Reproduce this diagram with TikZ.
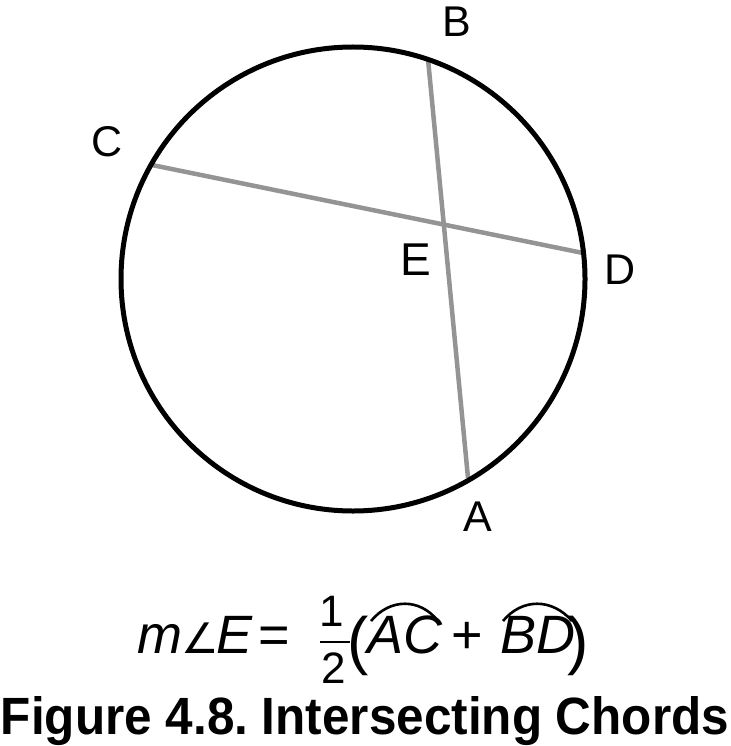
\documentclass[tikz,border=0pt]{standalone}
\usepackage{fontspec}
\setmainfont{Liberation Sans}
\newfontfamily\djv{DejaVu Sans}
\usepackage{graphicx}
\frenchspacing
\begin{document}
\begin{tikzpicture}[x=1pt,y=-1pt,
  lbl/.style={font=\fontsize{43}{43}\selectfont, inner sep=0pt},
  chord/.style={draw=black!42, line width=4.5pt},
  rim/.style={draw=black, line width=5pt},
  fml/.style={font=\fontsize{54}{54}\selectfont, inner sep=0pt, anchor=base west},
  frac/.style={font=\fontsize{44}{44}\selectfont, inner sep=0pt, anchor=base},
  arcover/.style={draw=black, line width=2.6pt}]
\useasboundingbox (0,0) rectangle (730,746);
\coordinate (O) at (353,279);
\coordinate (B) at (428,59);
\coordinate (A) at (468,478);
\coordinate (C) at (152,165);
\coordinate (D) at (583,253);
\draw[chord] (B) -- (A);
\draw[chord] (C) -- (D);
\draw[rim] (O) circle[radius=232];
\node[lbl] (lB) at (457,22) {B};
\node[lbl] (lC) at (107,142) {C};
\node[lbl] (lD) at (620,270) {D};
\node[lbl] (lA) at (478,517) {A};
\node[lbl, font=\fontsize{46}{46}\selectfont] (lE) at (416,260) {E};
% formula
\node[fml] (fm) at (137,653) {\textit{m}};
\node[fml, font=\fontsize{42}{42}\selectfont] (fang) at (181,653) {\djv\itshape ∠};
\node[fml] (fe) at (216,653) {\textit{E}};
\node[fml, anchor=base] (feq) at (274,653) {=};
\node[frac] (one) at (332,626) {1};
\node[frac] (two) at (334,683) {2};
\draw[line width=2.6pt] (320,642) coordinate (fb1) -- (350,642) coordinate (fb2);
\node[fml, font=\fontsize{64}{64}\selectfont] (lp) at (347,662) {(};
\node[fml] (ac) at (367,653) {\textit{AC}};
\node[fml, anchor=base] (plus) at (467,653) {+};
\node[fml] (bd) at (500,653) {\textit{BD}};
\node[fml, font=\fontsize{64}{64}\selectfont] (rp) at (567,662) {)};
\draw[arcover] (371,621) .. controls (390,598) and (420,598) .. (438,621);
\draw[arcover] (503,621) .. controls (522,598) and (552,598) .. (572,621);
% caption
\node[inner sep=0pt, anchor=base] (cap) at (365,734) {\resizebox{728pt}{38pt}{\bfseries Figure 4.8. Intersecting Chords}};
\end{tikzpicture}
\end{document}
